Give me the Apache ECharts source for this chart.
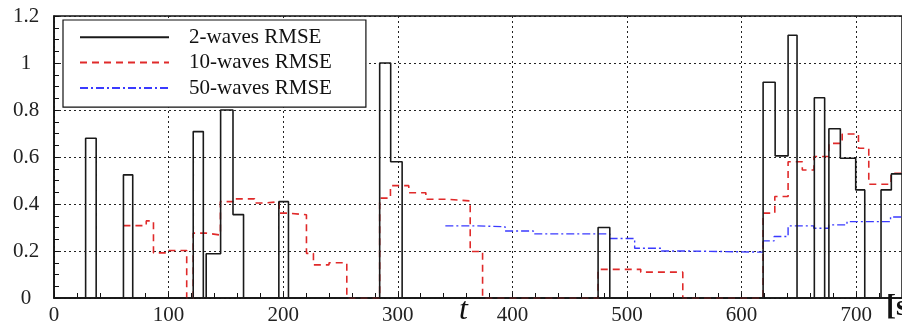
<!DOCTYPE html>
<html>
<head>
<meta charset="utf-8">
<script src="https://cdn.jsdelivr.net/npm/echarts@6/dist/echarts.min.js"></script>
<style>
  html, body { margin: 0; padding: 0; background: #fff; }
  #chart { width: 902px; height: 328px; }
</style>
</head>
<body>
<div id="chart"></div>
<script>
// step breakpoints (t in s) and the value held until the next breakpoint
const twoWavesT = [0, 27.6, 36.8, 60.6, 68.7, 121.5, 130.3, 132.8, 145.4, 156.2, 165.4, 196.2, 204.6,
  284.2, 293.8, 303.8, 474.8, 485, 618.8, 629.3, 640.6, 648.4, 663.5, 672.5, 676.2, 686.2, 699.6, 707.5,
  721.7, 730.7, 740];
const twoWavesV = [0, 0.68, 0, 0.524, 0, 0.708, 0, 0.188, 0.8, 0.355, 0, 0.41, 0,
  1.0, 0.58, 0, 0.3, 0, 0.918, 0.605, 1.118, 0, 0.852, 0, 0.72, 0.595, 0.46, 0,
  0.46, 0.528, 0.528];

const tenWavesT = [60.6, 80.5, 86.8, 99, 115.8, 121.5, 132.8, 145.2, 157, 175, 183.5, 196.5, 204.6,
  220.3, 226.4, 240, 255.5, 284.2, 293.6, 309.6, 324.5, 344, 363.2, 374, 474.8, 512, 548.7,
  618.8, 629, 640.6, 653, 663.2, 676.2, 687.8, 702, 711, 730.4, 740];
const tenWavesV = [0.308, 0.328, 0.192, 0.202, 0, 0.276, 0.268, 0.41, 0.422, 0.404, 0.41, 0.361, 0.354,
  0.19, 0.141, 0.15, 0, 0.425, 0.478, 0.448, 0.42, 0.413, 0.198, 0, 0.122, 0.11, 0,
  0.361, 0.432, 0.58, 0.545, 0.602, 0.658, 0.698, 0.637, 0.484, 0.531, 0.531];

const fiftyWavesT = [341.5, 370, 393.6, 418.3, 485, 506.7, 530, 553, 618.8, 628.4, 640.6, 663, 676, 692, 730, 740];
const fiftyWavesV = [0.307, 0.303, 0.285, 0.273, 0.253, 0.212, 0.2, 0.195, 0.243, 0.262, 0.307, 0.297, 0.311, 0.325, 0.345, 0.345];

const seriesNames = ['2-waves RMSE', '10-waves RMSE', '50-waves RMSE'];
const xTicks = [0, 100, 200, 300, 400, 500, 600, 700];
const yTicks = [0, 0.2, 0.4, 0.6, 0.8, 1, 1.2];

const serif = '"Liberation Serif", "DejaVu Serif", serif';
const pairs = (ts, vs) => ts.map((t, i) => [t, vs[i]]);

const chart = echarts.init(document.getElementById('chart'));

const option = {
  animation: false,
  backgroundColor: '#fff',
  grid: {
    left: 54,
    top: 16,
    right: -3,
    bottom: 30,
    show: true,
    borderColor: '#111',
    borderWidth: 1.5
  },
  legend: {
    orient: 'vertical',
    left: 63,
    top: 20,
    padding: [5, 34, 7, 16],
    itemGap: 1,
    itemWidth: 89,
    itemHeight: 14,
    borderColor: '#111',
    borderWidth: 1.2,
    backgroundColor: '#fff',
    data: seriesNames,
    // hide the marker dot, keep the line sample
    itemStyle: { opacity: 0, borderWidth: 0 },
    textStyle: {
      fontFamily: serif,
      fontSize: 21,
      color: '#111',
      lineHeight: 24.4,
      padding: [0, 0, 0, 15]
    }
  },
  xAxis: {
    type: 'value',
    min: 0,
    max: 740,
    interval: 100,
    axisLine: { lineStyle: { color: '#111', width: 1.5 } },
    axisTick: { inside: true, length: 5, lineStyle: { color: '#111' } },
    minorTick: { show: true, splitNumber: 5, length: 5, lineStyle: { color: '#111' } },
    axisLabel: {
      showMaxLabel: false,
      fontFamily: serif,
      fontSize: 21,
      color: '#222',
      margin: 7,
      formatter: v => (xTicks.indexOf(v) >= 0 ? String(v) : '')
    },
    splitLine: { show: true, lineStyle: { color: '#222', type: [2, 3], width: 1 } }
  },
  yAxis: {
    type: 'value',
    min: 0,
    max: 1.2,
    interval: 0.2,
    axisLine: { show: true, lineStyle: { color: '#111', width: 1.5 } },
    axisTick: { show: true, inside: true, length: 5, lineStyle: { color: '#111' } },
    minorTick: { show: true, splitNumber: 4, length: 5, lineStyle: { color: '#111' } },
    axisLabel: {
      fontFamily: serif,
      fontSize: 21,
      color: '#222',
      align: 'center',
      margin: 28,
      formatter: v => {
        const k = yTicks.findIndex(y => Math.abs(y - v) < 1e-6);
        return k >= 0 ? String(yTicks[k]) : '';
      }
    },
    splitLine: { show: true, lineStyle: { color: '#222', type: [2, 3], width: 1 } }
  },
  graphic: [
    {
      type: 'text',
      left: 459,
      top: 295,
      style: { text: 't', font: 'italic 32px ' + serif, fill: '#111' }
    },
    {
      type: 'text',
      left: 886,
      top: 292,
      style: { text: '[s]', font: 'bold 30px ' + serif, fill: '#111' }
    }
  ],
  series: [
    {
      name: seriesNames[0],
      type: 'line',
      step: 'end',
      symbol: 'none',
      z: 4,
      data: pairs(twoWavesT, twoWavesV),
      lineStyle: { color: '#1a1a1a', width: 1.6 },
      itemStyle: { color: '#1a1a1a' }
    },
    {
      name: seriesNames[1],
      type: 'line',
      step: 'end',
      symbol: 'none',
      z: 3,
      data: pairs(tenWavesT, tenWavesV),
      lineStyle: { color: '#e02a2a', width: 1.6, type: [7, 5] },
      itemStyle: { color: '#e02a2a' }
    },
    {
      name: seriesNames[2],
      type: 'line',
      step: 'end',
      symbol: 'none',
      z: 3,
      data: pairs(fiftyWavesT, fiftyWavesV),
      lineStyle: { color: '#3a3aff', width: 1.4, type: [8, 3, 2, 3] },
      itemStyle: { color: '#3a3aff' }
    }
  ]
};

chart.setOption(option);
window.addEventListener('resize', () => chart.resize());
</script>
</body>
</html>
